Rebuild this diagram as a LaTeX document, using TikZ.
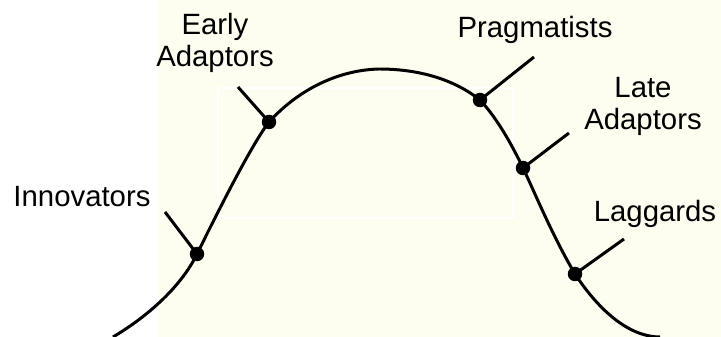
\documentclass[tikz,border=0pt]{standalone}
\usepackage{fontspec}
\setmainfont{Liberation Sans}
\usetikzlibrary{scopes}
\definecolor{paper}{RGB}{253,253,240}
\tikzset{
    dot/.style={circle, fill=black, inner sep=0pt, minimum size=0.29cm},
    lead/.style={line width=1.7pt},
    lbl/.style={inner sep=0pt, align=center, font=\fontsize{16.7}{18.2}\selectfont}
}

\begin{document}
\begin{tikzpicture}[x=0.02cm, y=-0.02cm]
    \useasboundingbox (0,0) rectangle (721,337);
    %paper
    \fill[paper] (158,0) rectangle (721,337);
    \draw[white, line width=1.2pt] (218,88) rectangle (513,218);
    %curve
    \coordinate (s) at (113,337);
    \coordinate (top) at (379,69);
    \coordinate (e) at (660,337);
    \node[dot] (inn) at (197,254) {};
    \node[dot] (ea) at (269,122) {};
    \node[dot] (pra) at (480,100) {};
    \node[dot] (la) at (523,168) {};
    \node[dot] (lag) at (575,274) {};
    \draw[line width=1.7pt] (s) .. controls (150,315) and (182,285) .. (inn.center)
        .. controls (209,230) and (249,148) .. (ea.center)
        .. controls (300,88) and (340,70) .. (top)
        .. controls (420,69) and (455,80) .. (pra.center)
        .. controls (497,118) and (512,145) .. (la.center)
        .. controls (535,193) and (552,235) .. (lag.center)
        .. controls (600,312) and (630,337) .. (e);
    %labels
    \node[lbl, anchor=base] (innt) at (82,207) {Innovators};
    \node[lbl] (eat) at (215,43) {Early\\Adaptors};
    \node[lbl, anchor=base] (prat) at (535,38) {Pragmatists};
    \node[lbl] (lat) at (643,106) {Late\\Adaptors};
    \node[lbl, anchor=base] (lagt) at (655,222) {Laggards};
    %leaders
    \coordinate (innx) at (165,212);
    \coordinate (eax) at (238,87);
    \coordinate (prax) at (534,57);
    \coordinate (lax) at (569,133);
    \coordinate (lagx) at (624,239);
    \draw[lead] (inn.center) -- (innx);
    \draw[lead] (ea.center) -- (eax);
    \draw[lead] (pra.center) -- (prax);
    \draw[lead] (la.center) -- (lax);
    \draw[lead] (lag.center) -- (lagx);
\end{tikzpicture}
\end{document}
